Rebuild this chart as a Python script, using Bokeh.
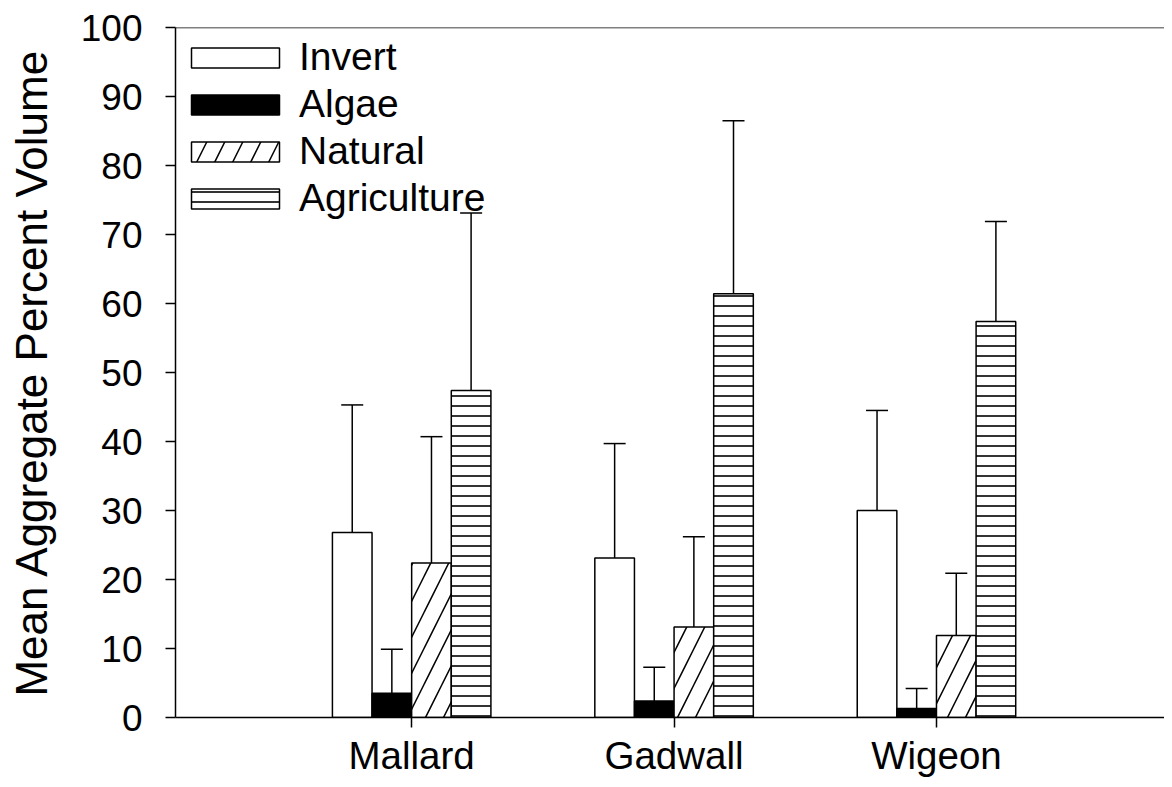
from bokeh.plotting import figure
from bokeh.models import Range1d, FixedTicker, ColumnDataSource, Whisker, TeeHead, Span
from bokeh.embed import file_html
from bokeh.resources import INLINE

# ---- data ----
categories = ["Mallard", "Gadwall", "Wigeon"]
series = ["Invert", "Algae", "Natural", "Agriculture"]
invert = [26.8, 23.1, 30.0]
invert_upper = [45.3, 39.7, 44.5]
algae = [3.5, 2.4, 1.3]
algae_upper = [9.9, 7.3, 4.2]
natural = [22.4, 13.1, 11.9]
natural_upper = [40.7, 26.2, 20.9]
agriculture = [47.4, 61.4, 57.4]
agriculture_upper = [73.1, 86.5, 71.9]
y_ticks = list(range(0, 101, 10))

FONT = "Liberation Sans"
BW = 0.151  # bar width in category units
W, H = 1164, 779
BL, BT, BB = 175, 27, 62

p = figure(width=W, height=H, output_backend="svg", toolbar_location=None,
           x_range=Range1d(0.1, 3.869), y_range=Range1d(0, 100),
           min_border_left=BL, min_border_top=BT, min_border_bottom=BB,
           min_border_right=0)
p.outline_line_color = None
p.xgrid.visible = False
p.ygrid.visible = False
p.background_fill_color = "white"

styles = [
    dict(fill_color="white"),
    dict(fill_color="black"),
    dict(fill_color="white", hatch_pattern="/", hatch_color="black",
         hatch_scale=36, hatch_weight=1.5),
    dict(fill_color="white", hatch_pattern="-", hatch_color="black",
         hatch_scale=10, hatch_weight=1.6),
]
values = [invert, algae, natural, agriculture]
uppers = [invert_upper, algae_upper, natural_upper, agriculture_upper]

for k, (name, vals, ups, st) in enumerate(zip(series, values, uppers, styles)):
    xs = [i + 1 + (k - 1.5) * BW for i in range(len(categories))]
    src = ColumnDataSource(dict(x=xs, top=vals, upper=ups))
    p.vbar(x="x", top="top", bottom=0, width=BW, source=src,
           line_color="black", line_width=1.5, legend_label=name, **st)
    w = Whisker(base="x", lower="top", upper="upper", source=src,
                line_color="black", line_width=1.5,
                upper_head=TeeHead(size=22, line_width=1.5, line_color="black"),
                lower_head=None)
    p.add_layout(w)

p.add_layout(Span(location=100, dimension="width", line_color="black",
                  line_width=1.5))

# y axis
ya = p.yaxis[0]
ya.ticker = FixedTicker(ticks=y_ticks)
ya.major_tick_out = 10
ya.major_tick_in = 0
ya.minor_tick_out = 0
ya.minor_tick_in = 0
ya.axis_line_width = 1.5
ya.major_tick_line_width = 1.5
ya.major_label_text_font = FONT
ya.major_label_text_font_size = "37px"
ya.major_label_text_color = "black"
ya.major_label_standoff = 23
ya.axis_label = "Mean Aggregate Percent Volume"
ya.axis_label_text_font = FONT
ya.axis_label_text_font_size = "44px"
ya.axis_label_text_font_style = "normal"
ya.axis_label_text_color = "black"
ya.axis_label_standoff = 22

# x axis
xa = p.xaxis[0]
xa.ticker = FixedTicker(ticks=[i + 1 for i in range(len(categories))])
xa.major_label_overrides = {i + 1: c for i, c in enumerate(categories)}
xa.major_tick_out = 10
xa.major_tick_in = 0
xa.minor_tick_out = 0
xa.minor_tick_in = 0
xa.axis_line_width = 1.5
xa.major_tick_line_width = 1.5
xa.major_label_text_font = FONT
xa.major_label_text_font_size = "38.5px"
xa.major_label_text_color = "black"
xa.major_label_standoff = 6

# legend
frame_h = H - BT - BB
legend_h = 4 * 44 + 3 * 3
lg = p.legend[0]
lg.location = (5, frame_h - 8 - legend_h)
lg.label_text_font = FONT
lg.label_text_font_size = "39px"
lg.label_text_color = "black"
lg.glyph_width = 110
lg.glyph_height = 25
lg.label_standoff = 9
lg.spacing = 3
lg.border_line_color = None
lg.background_fill_alpha = 0
lg.margin = 0
lg.padding = 0

open("out.html", "w").write(file_html(p, INLINE))
